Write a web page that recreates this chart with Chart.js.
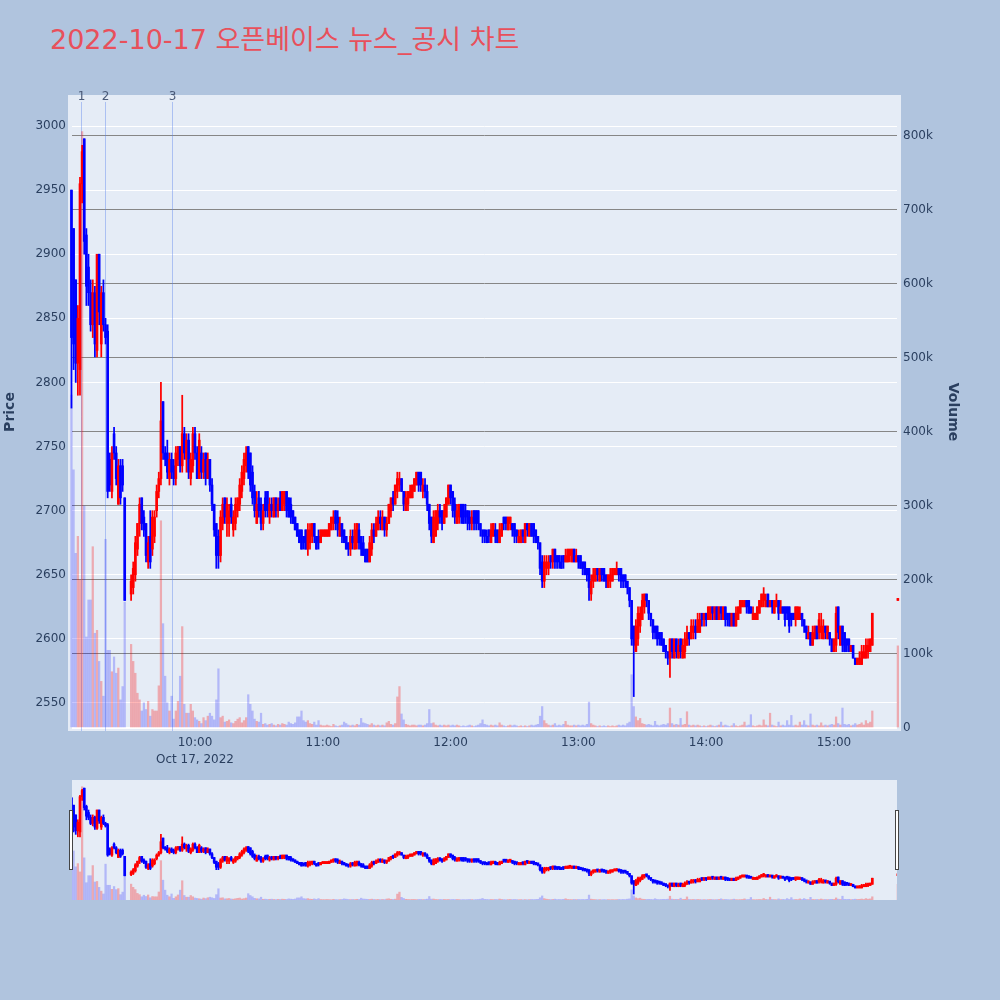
<!DOCTYPE html>
<html>
<head>
<meta charset="utf-8">
<script src="https://cdn.jsdelivr.net/npm/chart.js@4"></script>
<style>
body{margin:0;width:1000px;height:1000px;background:#b0c4de;position:relative;overflow:hidden}
#title{position:absolute;left:50px;top:24px;font:27px "DejaVu Sans","Noto Sans CJK KR",sans-serif;color:#e8505b;white-space:nowrap;line-height:32px}
#main{position:absolute;left:0;top:0}
#nav{position:absolute;left:0;top:770px}
</style>
</head>
<body>
<div id="title"></div>
<canvas id="main" width="1000" height="770"></canvas>
<canvas id="nav" width="1000" height="140"></canvas>
<script>
const chartTitle = "2022-10-17 오픈베이스 뉴스_공시 차트";
const dateLabel = "Oct 17, 2022";

// 1-minute bars (time of bar)
const times = [
"09:02","09:03","09:04","09:05","09:06","09:07","09:08","09:09","09:10","09:11",
"09:12","09:13","09:14","09:15","09:16","09:17","09:18","09:19","09:20","09:21",
"09:22","09:23","09:24","09:25","09:26","09:27",
"09:30","09:31","09:32","09:33","09:34","09:35","09:36","09:37","09:38","09:39",
"09:40","09:41","09:42","09:43","09:44","09:45","09:46","09:47","09:48","09:49",
"09:50","09:51","09:52","09:53","09:54","09:55","09:56","09:57","09:58","09:59",
"10:00","10:01","10:02","10:03","10:04","10:05","10:06","10:07","10:08","10:09",
"10:10","10:11","10:12","10:13","10:14","10:15","10:16","10:17","10:18","10:19",
"10:20","10:21","10:22","10:23","10:24","10:25","10:26","10:27","10:28","10:29",
"10:30","10:31","10:32","10:33","10:34","10:35","10:36","10:37","10:38","10:39",
"10:40","10:41","10:42","10:43","10:44","10:45","10:46","10:47","10:48","10:49",
"10:50","10:51","10:52","10:53","10:54","10:55","10:56","10:57","10:58","10:59",
"11:00","11:01","11:02","11:03","11:04","11:05","11:06","11:07","11:08","11:09",
"11:10","11:11","11:12","11:13","11:14","11:15","11:16","11:17","11:18","11:19",
"11:20","11:21","11:22","11:23","11:24","11:25","11:26","11:27","11:28","11:29",
"11:30","11:31","11:32","11:33","11:34","11:35","11:36","11:37","11:38","11:39",
"11:40","11:41","11:42","11:43","11:44","11:45","11:46","11:47","11:48","11:49",
"11:50","11:51","11:52","11:53","11:54","11:55","11:56","11:57","11:58","11:59",
"12:00","12:01","12:02","12:03","12:04","12:05","12:06","12:07","12:08","12:09",
"12:10","12:11","12:12","12:13","12:14","12:15","12:16","12:17","12:18","12:19",
"12:20","12:21","12:22","12:23","12:24","12:25","12:26","12:27","12:28","12:29",
"12:30","12:31","12:32","12:33","12:34","12:35","12:36","12:37","12:38","12:39",
"12:40","12:41","12:42","12:43","12:44","12:45","12:46","12:47","12:48","12:49",
"12:50","12:51","12:52","12:53","12:54","12:55","12:56","12:57","12:58","12:59",
"13:00","13:01","13:02","13:03","13:04","13:05","13:06","13:07","13:08","13:09",
"13:10","13:11","13:12","13:13","13:14","13:15","13:16","13:17","13:18","13:19",
"13:20","13:21","13:22","13:23","13:24","13:25","13:26","13:27","13:28","13:29",
"13:30","13:31","13:32","13:33","13:34","13:35","13:36","13:37","13:38","13:39",
"13:40","13:41","13:42","13:43","13:44","13:45","13:46","13:47","13:48","13:49",
"13:50","13:51","13:52","13:53","13:54","13:55","13:56","13:57","13:58","13:59",
"14:00","14:01","14:02","14:03","14:04","14:05","14:06","14:07","14:08","14:09",
"14:10","14:11","14:12","14:13","14:14","14:15","14:16","14:17","14:18","14:19",
"14:20","14:21","14:22","14:23","14:24","14:25","14:26","14:27","14:28","14:29",
"14:30","14:31","14:32","14:33","14:34","14:35","14:36","14:37","14:38","14:39",
"14:40","14:41","14:42","14:43","14:44","14:45","14:46","14:47","14:48","14:49",
"14:50","14:51","14:52","14:53","14:54","14:55","14:56","14:57","14:58","14:59",
"15:00","15:01","15:02","15:03","15:04","15:05","15:06","15:07","15:08","15:09",
"15:10","15:11","15:12","15:13","15:14","15:15","15:16","15:17","15:18",
"15:30"];

const openP = [
2950,2920,2880,2815,2810,2955,2990,2915,2890,2870,
2845,2870,2825,2900,2830,2870,2845,2840,2740,2715,
2760,2745,2705,2735,2735,2710,
2635,2640,2650,2670,2690,2710,2695,2690,2660,2680,
2670,2680,2700,2715,2725,2785,2745,2745,2725,2740,
2735,2725,2740,2750,2735,2760,2740,2755,2725,2735,
2760,2745,2725,2745,2730,2745,2725,2740,2720,2705,
2690,2680,2665,2690,2710,2690,2690,2705,2685,2690,
2700,2705,2715,2725,2735,2750,2745,2730,2715,2690,
2710,2705,2690,2710,2715,2695,2705,2695,2710,2700,
2710,2700,2705,2715,2710,2705,2700,2695,2690,2685,
2685,2680,2685,2670,2675,2680,2690,2680,2680,2675,
2680,2680,2680,2680,2685,2690,2700,2695,2680,2690,
2685,2680,2675,2670,2680,2670,2675,2685,2680,2675,
2670,2670,2660,2670,2685,2680,2685,2695,2685,2695,
2685,2690,2700,2710,2705,2715,2720,2725,2715,2700,
2705,2710,2710,2715,2720,2730,2730,2715,2720,2715,
2705,2695,2675,2680,2690,2700,2700,2690,2695,2705,
2720,2715,2705,2690,2695,2705,2705,2700,2700,2695,
2690,2700,2700,2700,2690,2685,2685,2680,2685,2675,
2680,2685,2685,2675,2680,2695,2695,2685,2690,2690,
2690,2685,2675,2675,2685,2675,2690,2680,2690,2690,
2685,2680,2675,2660,2645,2655,2655,2665,2660,2670,
2665,2665,2660,2665,2660,2660,2665,2660,2670,2660,
2665,2665,2660,2660,2655,2655,2635,2645,2645,2655,
2645,2655,2655,2650,2640,2645,2645,2650,2650,2655,
2655,2650,2650,2645,2640,2630,2610,2590,2600,2610,
2615,2625,2635,2630,2620,2615,2610,2610,2605,2605,
2600,2595,2590,2585,2600,2585,2600,2585,2600,2585,
2590,2595,2605,2600,2605,2610,2605,2605,2620,2615,
2620,2615,2615,2625,2615,2625,2615,2625,2615,2625,
2620,2620,2610,2620,2610,2615,2620,2625,2625,2630,
2630,2625,2615,2615,2615,2620,2625,2630,2625,2635,
2625,2630,2620,2625,2630,2620,2625,2625,2625,2625,
2620,2620,2615,2615,2615,2620,2615,2610,2600,2605,
2595,2600,2610,2605,2605,2600,2610,2600,2605,2600,
2590,2595,2625,2595,2610,2605,2600,2600,2590,2595,
2585,2580,2580,2580,2585,2585,2590,2590,2595,
2630];

const highP = [
2950,2920,2880,2860,2960,2985,2990,2920,2900,2880,
2880,2875,2900,2900,2875,2880,2850,2845,2745,2750,
2765,2750,2740,2740,2740,2710,
2650,2660,2680,2690,2710,2710,2700,2690,2680,2700,
2700,2700,2720,2730,2800,2785,2750,2755,2745,2745,
2740,2750,2750,2750,2790,2765,2760,2760,2745,2765,
2765,2750,2760,2750,2745,2745,2745,2740,2725,2705,
2690,2685,2700,2710,2710,2710,2705,2710,2700,2710,
2710,2725,2735,2745,2750,2750,2745,2735,2720,2715,
2715,2710,2705,2715,2715,2710,2710,2710,2710,2710,
2715,2715,2715,2715,2710,2710,2700,2695,2690,2685,
2685,2680,2685,2690,2690,2690,2690,2680,2685,2685,
2685,2685,2685,2690,2695,2700,2700,2700,2695,2690,
2685,2680,2675,2685,2685,2690,2690,2690,2680,2680,
2670,2670,2680,2690,2690,2695,2700,2700,2700,2695,
2695,2705,2710,2715,2720,2730,2730,2725,2715,2715,
2715,2720,2720,2725,2730,2730,2730,2725,2725,2720,
2705,2695,2700,2700,2705,2705,2700,2705,2710,2720,
2720,2715,2710,2705,2705,2705,2705,2705,2700,2700,
2700,2700,2700,2700,2690,2685,2685,2685,2685,2690,
2690,2690,2685,2690,2690,2695,2695,2695,2695,2690,
2690,2685,2685,2685,2685,2690,2690,2690,2690,2690,
2685,2680,2675,2665,2665,2665,2665,2665,2670,2670,
2665,2665,2665,2665,2670,2670,2670,2670,2670,2670,
2665,2665,2660,2660,2655,2655,2650,2655,2655,2655,
2655,2655,2655,2650,2650,2655,2655,2655,2660,2655,
2655,2650,2650,2645,2640,2630,2610,2615,2625,2625,
2635,2635,2635,2630,2620,2615,2610,2610,2605,2605,
2600,2595,2590,2600,2600,2600,2600,2600,2600,2600,
2605,2610,2605,2615,2615,2615,2620,2620,2620,2620,
2620,2625,2625,2625,2625,2625,2625,2625,2625,2625,
2620,2620,2620,2620,2625,2625,2630,2630,2630,2630,
2630,2625,2625,2620,2625,2630,2635,2640,2635,2635,
2630,2630,2630,2635,2630,2630,2625,2625,2625,2625,
2620,2620,2625,2625,2625,2620,2615,2610,2610,2605,
2610,2610,2610,2620,2620,2615,2610,2610,2605,2600,
2600,2625,2625,2610,2610,2605,2600,2600,2595,2595,
2585,2585,2590,2595,2595,2600,2600,2600,2620,
2630];

const lowP = [
2780,2810,2800,2790,2790,2940,2900,2860,2860,2840,
2835,2820,2820,2845,2820,2840,2830,2710,2715,2710,
2740,2720,2705,2705,2715,2630,
2630,2635,2645,2665,2680,2685,2680,2660,2655,2655,
2665,2675,2695,2710,2720,2740,2735,2725,2720,2725,
2720,2720,2735,2730,2730,2740,2730,2725,2720,2730,
2740,2725,2725,2725,2725,2720,2725,2715,2700,2680,
2655,2655,2660,2685,2690,2680,2680,2690,2680,2685,
2695,2700,2710,2720,2730,2725,2715,2705,2695,2690,
2695,2685,2685,2695,2695,2690,2695,2695,2695,2695,
2700,2700,2700,2695,2695,2690,2690,2685,2680,2675,
2670,2670,2670,2665,2670,2675,2675,2670,2670,2675,
2680,2680,2680,2680,2685,2685,2685,2680,2680,2675,
2675,2670,2665,2665,2670,2670,2670,2670,2665,2665,
2660,2660,2660,2665,2675,2680,2685,2685,2685,2680,
2680,2690,2695,2700,2705,2710,2715,2715,2700,2700,
2700,2710,2710,2715,2720,2715,2715,2710,2710,2700,
2685,2675,2675,2680,2685,2690,2685,2690,2695,2705,
2705,2695,2690,2690,2690,2690,2690,2690,2685,2685,
2685,2685,2685,2685,2680,2675,2675,2675,2675,2675,
2680,2675,2675,2675,2680,2685,2685,2685,2685,2680,
2675,2675,2675,2675,2675,2675,2680,2680,2680,2675,
2675,2670,2650,2640,2640,2650,2650,2655,2655,2655,
2655,2655,2655,2655,2660,2660,2660,2660,2660,2660,
2655,2655,2650,2650,2645,2630,2630,2640,2645,2645,
2645,2645,2645,2640,2640,2640,2645,2650,2650,2645,
2640,2640,2640,2635,2625,2595,2555,2590,2595,2605,
2615,2620,2625,2615,2610,2600,2600,2595,2595,2595,
2590,2585,2580,2570,2585,2585,2585,2585,2585,2585,
2585,2595,2595,2600,2600,2600,2605,2605,2610,2610,
2610,2615,2615,2615,2615,2615,2615,2615,2615,2610,
2610,2610,2610,2610,2610,2615,2620,2625,2625,2620,
2620,2620,2615,2615,2615,2620,2625,2625,2625,2625,
2625,2620,2620,2625,2615,2620,2620,2610,2615,2605,
2610,2615,2610,2615,2615,2610,2605,2600,2600,2595,
2595,2600,2600,2600,2600,2600,2600,2600,2595,2590,
2590,2590,2600,2595,2590,2590,2590,2590,2590,2585,
2580,2580,2580,2580,2585,2585,2585,2590,2595,
2630];

const closeP = [
2835,2830,2815,2850,2955,2980,2910,2875,2870,2845,
2870,2830,2900,2855,2870,2845,2835,2715,2720,2745,
2745,2725,2735,2710,2720,2630,
2645,2655,2675,2690,2705,2690,2685,2665,2675,2660,
2695,2695,2715,2725,2770,2745,2740,2730,2740,2730,
2725,2745,2750,2735,2760,2745,2755,2730,2740,2760,
2745,2725,2755,2730,2740,2725,2740,2720,2705,2685,
2665,2665,2695,2705,2695,2705,2700,2695,2695,2705,
2710,2720,2730,2740,2745,2730,2720,2710,2700,2705,
2700,2690,2700,2700,2700,2705,2700,2710,2700,2705,
2700,2715,2715,2700,2695,2695,2690,2685,2680,2675,
2670,2675,2670,2685,2685,2690,2680,2670,2675,2685,
2685,2685,2685,2690,2695,2695,2690,2685,2690,2680,
2675,2670,2670,2680,2675,2685,2690,2675,2670,2665,
2660,2660,2675,2685,2680,2690,2695,2690,2695,2685,
2690,2705,2710,2705,2720,2725,2725,2715,2705,2710,
2715,2715,2720,2725,2730,2720,2720,2720,2715,2705,
2690,2680,2695,2700,2700,2695,2690,2700,2710,2720,
2710,2700,2695,2700,2705,2695,2690,2695,2690,2690,
2695,2690,2690,2690,2685,2680,2680,2675,2680,2685,
2690,2680,2675,2685,2690,2690,2690,2695,2695,2685,
2680,2680,2680,2685,2680,2690,2685,2690,2680,2680,
2675,2675,2655,2645,2660,2660,2660,2660,2670,2660,
2660,2660,2655,2660,2665,2670,2670,2670,2660,2665,
2660,2655,2655,2650,2650,2640,2645,2650,2655,2650,
2655,2650,2645,2645,2650,2650,2655,2655,2655,2650,
2645,2645,2645,2640,2630,2600,2595,2610,2620,2620,
2630,2635,2630,2620,2615,2605,2605,2600,2600,2595,
2590,2590,2585,2600,2590,2600,2590,2595,2590,2595,
2600,2605,2600,2610,2610,2605,2615,2615,2615,2620,
2615,2625,2625,2620,2625,2615,2625,2620,2625,2615,
2615,2610,2620,2610,2620,2625,2630,2630,2630,2625,
2620,2620,2620,2620,2625,2630,2635,2635,2630,2625,
2630,2625,2630,2630,2620,2625,2620,2615,2620,2610,
2615,2615,2625,2625,2620,2615,2610,2605,2605,2595,
2605,2610,2600,2615,2610,2610,2605,2610,2600,2590,
2600,2620,2605,2610,2595,2590,2595,2590,2595,2585,
2580,2585,2585,2590,2590,2595,2595,2600,2620,
2630];

// volume in thousands of shares
const volumeK = [
450,349,236,259,200,806,300,123,173,173,
245,128,132,90,63,43,255,105,105,76,
96,74,81,38,56,170,
113,90,74,47,38,23,34,25,36,16,
25,23,23,57,280,141,70,34,23,43,
12,23,36,70,137,32,20,20,32,23,
14,11,9,6,14,10,16,20,16,11,
38,80,14,16,8,9,11,7,6,9,
12,14,7,10,14,45,32,23,12,9,
8,20,5,6,4,5,6,4,3,5,
4,6,5,4,8,6,5,7,15,15,
23,10,8,10,6,5,8,4,10,4,
3,3,4,3,2,5,3,2,3,4,
8,6,4,3,4,3,5,4,13,7,
6,5,4,6,4,3,4,3,4,3,
7,9,5,4,6,42,56,19,11,5,
4,3,4,4,3,4,4,3,4,6,
25,6,7,4,3,4,3,4,3,4,
3,4,3,4,3,2,3,2,3,4,
3,2,3,4,6,11,5,4,3,4,
3,4,3,7,4,3,2,3,4,3,
4,3,2,3,2,3,2,3,4,3,
4,5,16,29,10,6,4,3,4,6,
3,4,3,5,9,4,3,3,4,3,
4,3,4,3,5,35,6,4,3,2,
3,2,3,2,3,2,3,2,3,4,
3,4,3,6,8,72,29,15,10,13,
6,5,4,5,4,3,9,4,3,4,
5,4,6,27,6,4,5,4,13,4,
5,22,4,3,4,3,4,3,2,3,
2,3,4,3,2,3,4,8,3,4,
3,2,3,6,3,2,3,4,8,3,
4,18,3,2,3,4,3,11,4,3,
20,4,3,2,8,3,4,3,10,4,
17,3,4,3,8,4,10,4,3,19,
4,3,4,3,7,3,4,3,4,5,
4,15,6,4,27,5,4,5,3,4,
6,4,5,7,4,10,6,8,23,
111];

const newsTimes = ["09:06:30","09:17:45","09:49:20"];
const newsLabels = ["1","2","3"];
const priceTicks = [2550,2600,2650,2700,2750,2800,2850,2900,2950,3000];
const volumeTicks = [0,100,200,300,400,500,600,700,800];
const timeTicks = ["10:00","11:00","12:00","13:00","14:00","15:00"];

const toMin = s => { const p = s.split(":").map(Number); return (p[0]-9)*60 + p[1] + (p[2]||0)/60; };

document.getElementById("title").textContent = chartTitle;

const FONT = '"DejaVu Sans", Verdana, sans-serif';
const INK = "#2a3f5f";
Chart.defaults.font.family = FONT;
Chart.defaults.font.size = 12;
Chart.defaults.color = INK;

const mins = times.map(toMin);
const up = closeP.map((c,i) => c >= openP[i]);
const candleCol = up.map(u => u ? "#ff0000" : "#0000ff");
const volCol = up.map(u => u ? "rgba(255,0,0,0.28)" : "rgba(0,0,255,0.22)");

const X_MIN = 2.25, X_MAX = 389.6;
const P_MIN = 2530.5, P_MAX = 3023.4;
const V_MAX = 854;

function makeSets(bodyW, wickW, volW){
  const clip = {left:4, right:4, top:0, bottom:0};
  return [
    {type:"bar", label:"vol", yAxisID:"yv", order:3, grouped:false, clip,
     data: mins.map((m,i)=>({x:m, y:volumeK[i]})),
     backgroundColor: volCol, barThickness: volW, borderWidth:0},
    {type:"bar", label:"wick", yAxisID:"y", order:2, grouped:false, clip, minBarLength:2,
     data: mins.map((m,i)=>({x:m, y:[lowP[i], highP[i]]})),
     backgroundColor: candleCol, barThickness: wickW, borderWidth:0},
    {type:"bar", label:"body", yAxisID:"y", order:1, grouped:false, clip, minBarLength:2,
     data: mins.map((m,i)=>({x:m, y:[Math.min(openP[i],closeP[i]), Math.max(openP[i],closeP[i])]})),
     backgroundColor: candleCol, barThickness: bodyW, borderWidth:0}
  ];
}

const plotBg = {
  id:"plotBg",
  beforeDraw(c, args, o){
    const a = c.chartArea, ctx = c.ctx;
    ctx.save(); ctx.fillStyle = "#e5ecf6";
    ctx.fillRect(a.left - o.pad, a.top - o.padTop, a.right - a.left + 2*o.pad, a.bottom - a.top + o.padTop + o.padBottom);
    ctx.restore();
  }
};

const newsLines = {
  id:"newsLines",
  beforeDatasetsDraw(c){
    const x = c.scales.x, a = c.chartArea, ctx = c.ctx;
    ctx.save();
    newsTimes.forEach((t,i)=>{
      const px = Math.round(x.getPixelForValue(toMin(t))) + 0.5;
      ctx.strokeStyle = "rgba(90,130,235,0.42)"; ctx.lineWidth = 1;
      ctx.beginPath(); ctx.moveTo(px, a.top + 6); ctx.lineTo(px, a.bottom + 3); ctx.stroke();
      ctx.fillStyle = "#4a5a78"; ctx.font = "12px " + FONT;
      ctx.textAlign = "center"; ctx.textBaseline = "middle";
      ctx.fillText(newsLabels[i], px, a.top + 1);
    });
    ctx.restore();
  }
};

const grabbers = {
  id:"grabbers",
  afterDraw(c){
    const a = c.chartArea, ctx = c.ctx;
    ctx.save(); ctx.fillStyle = "#fff"; ctx.strokeStyle = "#444"; ctx.lineWidth = 1;
    [a.left - 3, a.right - 2].forEach(x0=>{
      ctx.fillRect(x0, 810-770, 4, 60);
      ctx.strokeRect(x0 + 0.5, 810-770 + 0.5, 3, 59);
    });
    ctx.restore();
  }
};

new Chart(document.getElementById("main"), {
  data: { datasets: makeSets(2.0, 1.1, 1.6) },
  options: {
    responsive:false, animation:false, devicePixelRatio:1,
    layout:{padding:{top:96, left:0, right:37, bottom:0}},
    plugins:{legend:{display:false}, tooltip:{enabled:false},
             plotBg:{pad:4, padTop:1, padBottom:3}},
    scales:{
      x:{type:"linear", min:X_MIN, max:X_MAX, offset:false,
         grid:{display:false, drawTicks:false, offset:false}, border:{display:false},
         afterFit(s){ s.height = 42; },
         afterBuildTicks(s){ s.ticks = timeTicks.map(t=>({value:toMin(t)})); },
         ticks:{autoSkip:false, maxRotation:0, padding:6,
                font:{size:12, lineHeight:17/12},
                callback:(v,i)=> i===0 ? [timeTicks[i], dateLabel] : timeTicks[i]}},
      y:{position:"left", min:P_MIN, max:P_MAX,
         afterFit(s){ s.width = 72; },
         afterBuildTicks(s){ s.ticks = priceTicks.map(v=>({value:v})); },
         grid:{color:"#ffffff", lineWidth:1, drawTicks:false}, border:{display:false},
         ticks:{padding:6, callback:v=>String(v)},
         title:{display:true, text:"Price", color:INK, padding:{top:2,bottom:0},
                font:{size:14, weight:"bold"}}},
      yv:{position:"right", min:0, max:V_MAX,
         afterFit(s){ s.width = 66; },
         afterBuildTicks(s){ s.ticks = volumeTicks.map(v=>({value:v})); },
         grid:{color:ctx=> ctx.tick && ctx.tick.value===0 ? "#ffffff" : "#868686",
               lineWidth:ctx=> ctx.tick && ctx.tick.value===0 ? 2 : 1, drawTicks:false},
         border:{display:false},
         ticks:{padding:6, callback:v=> v===0 ? "0" : v + "k"},
         title:{display:true, text:"Volume", color:INK, padding:{top:2,bottom:0},
                font:{size:14, weight:"bold"}}}
    }
  },
  plugins:[plotBg, newsLines]
});

new Chart(document.getElementById("nav"), {
  data: { datasets: makeSets(2.0, 1.1, 1.6).map(d=>Object.assign(d,{clip:0})) },
  options: {
    responsive:false, animation:false, devicePixelRatio:1,
    layout:{padding:{top:10, left:72, right:103, bottom:10}},
    plugins:{legend:{display:false}, tooltip:{enabled:false},
             plotBg:{pad:0, padTop:0, padBottom:0}},
    scales:{
      x:{type:"linear", min:X_MIN, max:X_MAX, offset:false, display:false, grid:{offset:false}},
      y:{min:P_MIN, max:P_MAX, display:false},
      yv:{min:0, max:V_MAX, display:false, position:"right"}
    }
  },
  plugins:[plotBg, grabbers]
});
</script>
</body>
</html>
